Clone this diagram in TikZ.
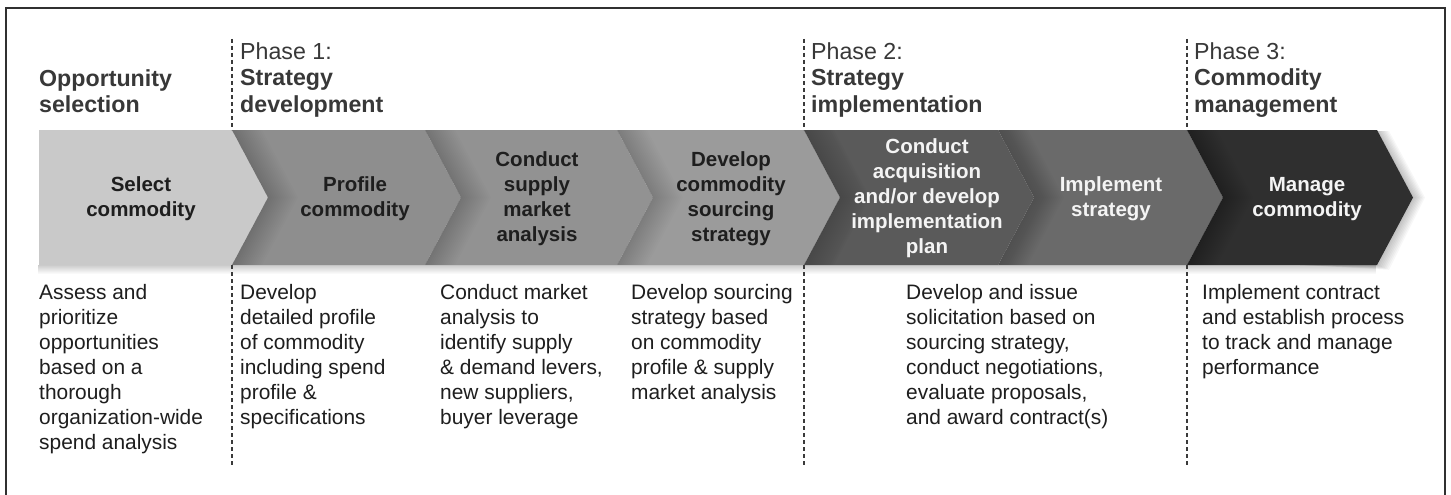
\documentclass[tikz,border=0pt]{standalone}
\usepackage{fontspec}
\setmainfont{Liberation Sans}
\usetikzlibrary{fadings}
\definecolor{hdrgray}{HTML}{383838}
\definecolor{bodyblack}{HTML}{1E1E1E}
\definecolor{dashgray}{HTML}{3A3A3A}
\definecolor{frame}{HTML}{303030}
\definecolor{cA}{HTML}{C9C9C9}
\definecolor{cB}{HTML}{8E8E8E}
\definecolor{cC}{HTML}{929292}
\definecolor{cD}{HTML}{9B9B9B}
\definecolor{cE}{HTML}{5A5A5A}
\definecolor{cF}{HTML}{6A6A6A}
\definecolor{cG}{HTML}{2F2F2F}
\definecolor{lighttext}{HTML}{F4F4F4}
\begin{document}
\begin{tikzpicture}[x=1pt,y=-1pt,
  hdr/.style={anchor=base west, align=left, inner sep=0pt, text=hdrgray, font=\fontsize{23.2}{26.5}\selectfont},
  body/.style={anchor=base west, align=left, inner sep=0pt, text=bodyblack, font=\fontsize{20.9}{25}\selectfont},
  chevtext/.style={align=center, inner sep=0pt, font=\bfseries\fontsize{20.5}{25}\selectfont},
  darktext/.style={chevtext, text=bodyblack},
  brighttext/.style={chevtext, text=lighttext},
  phasedash/.style={draw=dashgray, line width=1.1pt, dash pattern=on 4pt off 3pt},
  shadowlayer/.style={fill=black, fill opacity=0.013}
]
\useasboundingbox (0,0) rectangle (1451,495);
\fill[white] (0,0) rectangle (1451,495);

% frame
\draw[frame, line width=1.8pt] (6,497) -- (6,8) -- (1445,8) -- (1445,497);

% soft shadow below the band
\fill[black, fill opacity=0.2, path fading=south] (39,265) rectangle (1380,274);
% shadow of last tip on background
\foreach \s in {1.5,3,...,12}
  \fill[shadowlayer, fill opacity=0.03] (1300,131) -- (1377+\s,131) -- (1413+\s,197.5) -- (1377+\s,265+0.4*\s) -- (1300,265) -- cycle;

% chevrons
\fill[cA] (39,130) -- (232,130) -- (268,197.5) -- (232,265) -- (39,265) -- cycle;
\fill[cB] (232,130) -- (425,130) -- (461,197.5) -- (425,265) -- (232,265) -- (268,197.5) -- cycle;
\fill[cC] (425,130) -- (617,130) -- (653,197.5) -- (617,265) -- (425,265) -- (461,197.5) -- cycle;
\fill[cD] (617,130) -- (804,130) -- (840,197.5) -- (804,265) -- (617,265) -- (653,197.5) -- cycle;
\fill[cE] (804,130) -- (998,130) -- (1034,197.5) -- (998,265) -- (804,265) -- (840,197.5) -- cycle;
\fill[cF] (998,130) -- (1187,130) -- (1223,197.5) -- (1187,265) -- (998,265) -- (1034,197.5) -- cycle;
\fill[cG] (1187,130) -- (1377,130) -- (1413,197.5) -- (1377,265) -- (1187,265) -- (1223,197.5) -- cycle;

% shadows cast by each tip onto the next chevron
\foreach \b/\e in {232/425,425/617,617/804,804/998,998/1187,1187/1377}{
  \begin{scope}
    \clip (\b,130) -- (\e,130) -- (\e+36,197.5) -- (\e,265) -- (\b,265) -- (\b+36,197.5) -- cycle;
    \foreach \s in {2,4,...,30}
      \fill[shadowlayer] (\b-60+\s,130) -- (\b+\s,130) -- (\b+36+\s,197.5) -- (\b+\s,265) -- (\b-60+\s,265) -- cycle;
  \end{scope}
}

% phase separators
\coordinate (d1t) at (232,39);  \coordinate (d1m) at (232,130);
\coordinate (d1n) at (232,265); \coordinate (d1b) at (232,467);
\coordinate (d2t) at (804,39);  \coordinate (d2m) at (804,130);
\coordinate (d2n) at (804,265); \coordinate (d2b) at (804,467);
\coordinate (d3t) at (1187,39); \coordinate (d3m) at (1187,130);
\coordinate (d3n) at (1187,265); \coordinate (d3b) at (1187,467);
\draw[phasedash] (d1t) -- (d1m);
\draw[phasedash] (d1n) -- (d1b);
\draw[phasedash] (d2t) -- (d2m);
\draw[phasedash] (d2n) -- (d2b);
\draw[phasedash] (d3t) -- (d3m);
\draw[phasedash] (d3n) -- (d3b);

% headers (base anchor = baseline of last line)
\node[hdr] (h0) at (39,112.5) {\textbf{Opportunity}\\\textbf{selection}};
\node[hdr] (h1) at (240,112) {Phase 1:\\\textbf{Strategy}\\\textbf{development}};
\node[hdr] (h2) at (811,112) {Phase 2:\\\textbf{Strategy}\\\textbf{implementation}};
\node[hdr] (h3) at (1194,112) {Phase 3:\\\textbf{Commodity}\\\textbf{management}};

% chevron labels
\node[darktext] (t1) at (141,199) {Select\\commodity};
\node[darktext] (t2) at (355,199) {Profile\\commodity};
\node[darktext] (t3) at (537,199) {Conduct\\supply\\market\\analysis};
\node[darktext] (t4) at (731,199) {Develop\\commodity\\sourcing\\strategy};
\node[brighttext] (t5) at (927,198) {Conduct\\acquisition\\and/or develop\\implementation\\plan};
\node[brighttext] (t6) at (1111,199) {Implement\\strategy};
\node[brighttext] (t7) at (1307,199) {Manage\\commodity};

% descriptions (base anchor = baseline of last line)
\node[body] (b1) at (39,449) {Assess and\\prioritize\\opportunities\\based on a\\thorough\\organization-wide\\spend analysis};
\node[body] (b2) at (240,424) {Develop\\detailed profile\\of commodity\\including spend\\profile \&\\specifications};
\node[body] (b3) at (440,424) {Conduct market\\analysis to\\identify supply\\\& demand levers,\\new suppliers,\\buyer leverage};
\node[body] (b4) at (631,399) {Develop sourcing\\strategy based\\on commodity\\profile \& supply\\market analysis};
\node[body] (b5) at (906,424) {Develop and issue\\solicitation based on\\sourcing strategy,\\conduct negotiations,\\evaluate proposals,\\and award contract(s)};
\node[body] (b6) at (1202,374) {Implement contract\\and establish process\\to track and manage\\performance};
\end{tikzpicture}
\end{document}
